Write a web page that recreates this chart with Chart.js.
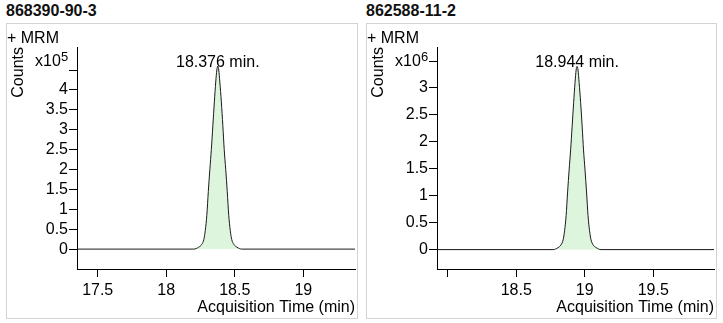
<!DOCTYPE html>
<html>
<head>
<meta charset="utf-8">
<script src="https://cdn.jsdelivr.net/npm/chart.js@4.4.1/dist/chart.umd.min.js"></script>
<style>
  body { margin: 0; background: #fff; width: 723px; height: 323px; position: relative; overflow: hidden;
         font-family: "Liberation Sans", Arial, sans-serif; color: #000; }
  .title { position: absolute; top: 3px; font-size: 16px; line-height: 16px; font-weight: bold; color: #111; }
  .panel { position: absolute; top: 23px; height: 294px; border: 1px solid #d3d3d3; }
  .mrm { position: absolute; top: 30px; font-size: 16px; line-height: 16px; }
  .mult { position: absolute; top: 53px; font-size: 16px; line-height: 16px; }
  .mult sup { position: absolute; left: 26px; top: -3px; font-size: 13px; line-height: 13px; }
  canvas { position: absolute; top: 24px; }
</style>
</head>
<body>
<div class="title" style="left:6px">868390-90-3</div>
<div class="title" style="left:366px">862588-11-2</div>
<div class="panel" style="left:6px; width:350px"></div>
<div class="panel" style="left:366px; width:349px"></div>
<canvas id="chartA" width="349" height="293" style="left:7px"></canvas>
<canvas id="chartB" width="348" height="293" style="left:367px"></canvas>
<div class="mrm" style="left:7px">+ MRM</div>
<div class="mrm" style="left:367px">+ MRM</div>
<div class="mult" style="left:35px">x10<sup>5</sup></div>
<div class="mult" style="left:395px">x10<sup>6</sup></div>

<script>
// 868390-90-3 trace (time in min, counts)
const timesA = [17.349, 18.201, 18.237, 18.259, 18.274, 18.285, 18.296, 18.307, 18.318, 18.329, 18.340,
                18.351, 18.361, 18.369, 18.376, 18.383, 18.391, 18.402, 18.413, 18.423, 18.434,
                18.445, 18.456, 18.467, 18.478, 18.493, 18.515, 18.551, 19.377];
const countsA = [0, 0, 5000, 12000, 24000, 47000, 85000, 145000, 200000, 250000, 310000,
                 370000, 420000, 450000, 460000, 450000, 420000, 370000, 310000, 250000, 200000,
                 145000, 85000, 47000, 24000, 12000, 5000, 0, 0];
const xTicksA = [17.5, 18, 18.5, 19];
const xLabelsA = ['17.5', '18', '18.5', '19'];
const yTicksA = [0, 50000, 100000, 150000, 200000, 250000, 300000, 350000, 400000, 450000];
const yLabelsA = ['0', '0.5', '1', '1.5', '2', '2.5', '3', '3.5', '4', ''];

// 862588-11-2 trace
const timesB = [17.922, 18.769, 18.805, 18.827, 18.842, 18.853, 18.864, 18.875, 18.886, 18.897, 18.908,
                18.919, 18.929, 18.937, 18.944, 18.951, 18.959, 18.970, 18.981, 18.991, 19.002,
                19.013, 19.024, 19.035, 19.046, 19.061, 19.083, 19.119, 19.943];
const countsB = [0, 0, 37000, 89000, 180000, 350000, 630000, 1070000, 1480000, 1850000, 2290000,
                 2730000, 3100000, 3330000, 3400000, 3330000, 3100000, 2730000, 2290000, 1850000, 1480000,
                 1070000, 630000, 350000, 180000, 89000, 37000, 0, 0];
const xTicksB = [18, 18.5, 19, 19.5];
const xLabelsB = ['', '18.5', '19', '19.5'];
const yTicksB = [0, 500000, 1000000, 1500000, 2000000, 2500000, 3000000, 3500000];
const yLabelsB = ['0', '0.5', '1', '1.5', '2', '2.5', '3', ''];

Chart.defaults.font.family = '"Liberation Sans", Arial, sans-serif';
Chart.defaults.color = '#000';

// writes the retention time above the apex of the trace
const peakLabel = {
    id: 'peakLabel',
    afterDatasetsDraw(chart) {
        const pts = chart.data.datasets[0].data;
        let k = 0;
        pts.forEach((p, i) => { if (p.y > pts[k].y) k = i; });
        const el = chart.getDatasetMeta(0).data[k];
        const ctx = chart.ctx;
        ctx.save();
        ctx.font = '16px "Liberation Sans", Arial, sans-serif';
        ctx.fillStyle = '#000';
        ctx.textAlign = 'center';
        ctx.textBaseline = 'alphabetic';
        ctx.fillText(pts[k].x.toFixed(3) + ' min.', el.x, el.y + 1);
        ctx.restore();
    }
};

function drawTrace(id, times, counts, xRange, xTicks, xLabels, yRange, yTicks, yLabels) {
    const axisGrid = { drawOnChartArea: false, drawTicks: true, tickLength: 8, color: '#000', lineWidth: 1 };
    return new Chart(document.getElementById(id), {
        type: 'line',
        data: {
            datasets: [{
                data: times.map((t, i) => ({ x: t, y: counts[i] })),
                borderColor: '#1a1a1a',
                borderWidth: 1,
                backgroundColor: '#dcf5dc',
                fill: 'origin',
                pointRadius: 0,
                cubicInterpolationMode: 'monotone'
            }]
        },
        options: {
            responsive: false,
            animation: false,
            layout: { padding: { top: 23, right: 1, bottom: 0, left: 0 } },
            plugins: { legend: { display: false }, tooltip: { enabled: false } },
            scales: {
                x: {
                    type: 'linear',
                    min: xRange[0],
                    max: xRange[1],
                    afterBuildTicks: s => { s.ticks = xTicks.map(v => ({ value: v })); },
                    afterFit: s => { s.height = 48; },
                    ticks: { callback: (v, i) => xLabels[i], font: { size: 16 }, padding: 4, maxRotation: 0, autoSkip: false },
                    grid: axisGrid,
                    border: { color: '#000', width: 1 },
                    title: { display: true, text: 'Acquisition Time (min)', align: 'end',
                             font: { size: 16, lineHeight: 1 }, padding: { top: 0, bottom: 1 } }
                },
                y: {
                    min: yRange[0],
                    max: yRange[1],
                    afterBuildTicks: s => { s.ticks = yTicks.map(v => ({ value: v })); },
                    afterFit: s => { s.width = 70; },
                    ticks: { callback: (v, i) => yLabels[i], font: { size: 16 }, padding: 1, autoSkip: false },
                    grid: axisGrid,
                    border: { color: '#000', width: 1 },
                    title: { display: true, text: 'Counts', align: 'end',
                             font: { size: 16, lineHeight: 1 }, padding: { top: 4, bottom: 0 } }
                }
            }
        },
        plugins: [peakLabel]
    });
}

drawTrace('chartA', timesA, countsA, [17.349, 19.377], xTicksA, xLabelsA, [-50000, 508000], yTicksA, yLabelsA);
drawTrace('chartB', timesB, countsB, [17.922, 19.943], xTicksB, xLabelsB, [-360000, 3760000], yTicksB, yLabelsB);
</script>
</body>
</html>
